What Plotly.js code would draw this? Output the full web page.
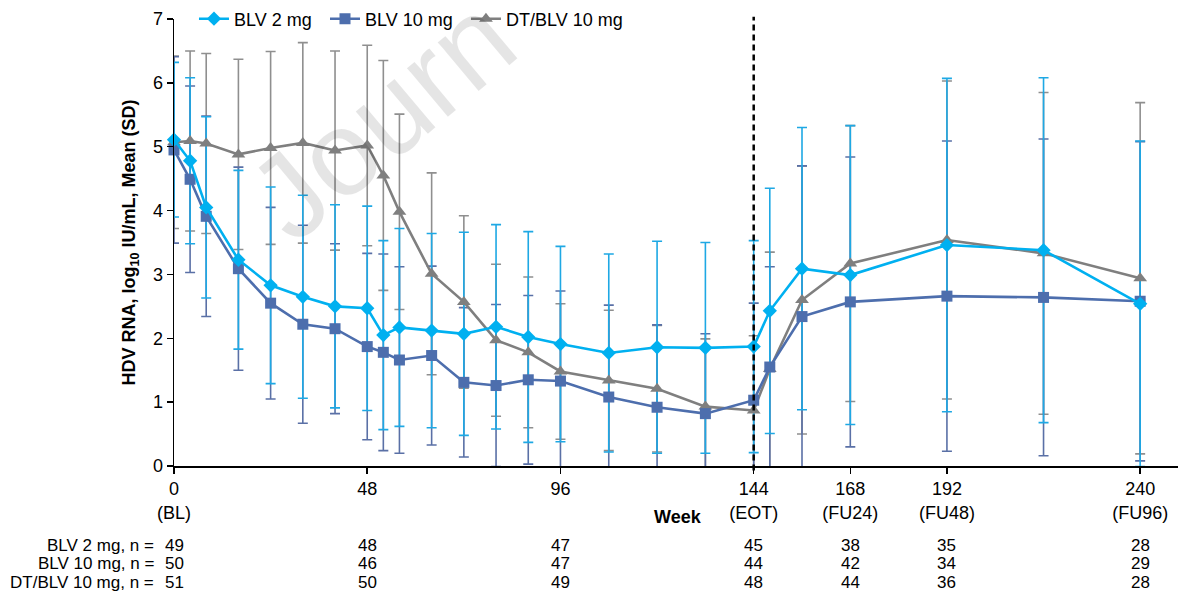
<!DOCTYPE html>
<html>
<head>
<meta charset="utf-8">
<script src="https://cdn.plot.ly/plotly-3.0.1.min.js"></script>
<style>
  html, body { margin: 0; padding: 0; background: #ffffff; }
  #chart { width: 1178px; height: 596px; }
</style>
</head>
<body>
<div id="chart"></div>
<script>
// Study weeks at which HDV RNA was measured
const weeks = [0, 4, 8, 16, 24, 32, 40, 48, 52, 56, 64, 72, 80, 88, 96, 108, 120, 132, 144, 148, 156, 168, 192, 216, 240];

// Mean HDV RNA (log10 IU/mL) per arm
const blv2Mean  = [5.11, 4.78, 4.05, 3.23, 2.83, 2.65, 2.50, 2.47, 2.05, 2.17, 2.12, 2.07, 2.18, 2.02, 1.91, 1.77, 1.86, 1.85, 1.87, 2.43, 3.09, 2.99, 3.46, 3.38, 2.54];
const blv10Mean = [4.95, 4.49, 3.91, 3.09, 2.55, 2.22, 2.15, 1.87, 1.78, 1.66, 1.73, 1.31, 1.26, 1.35, 1.33, 1.08, 0.92, 0.82, 1.03, 1.55, 2.34, 2.57, 2.66, 2.64, 2.58];
const dtBlvMean = [5.07, 5.09, 5.05, 4.88, 4.98, 5.06, 4.94, 5.02, 4.55, 3.98, 3.01, 2.57, 1.97, 1.78, 1.48, 1.34, 1.21, 0.93, 0.87, 1.52, 2.60, 3.17, 3.54, 3.33, 2.94];

// Standard deviations per arm
const blv2Sd  = [1.21, 1.30, 1.42, 1.40, 1.54, 1.59, 1.59, 1.60, 1.48, 1.55, 1.52, 1.59, 1.60, 1.65, 1.53, 1.55, 1.66, 1.65, 1.66, 1.92, 2.21, 2.34, 2.61, 2.70, 2.55];
const blv10Sd = [1.46, 1.46, 1.57, 1.59, 1.50, 1.55, 1.33, 1.46, 1.54, 1.46, 1.40, 1.17, 1.27, 1.32, 1.41, 1.44, 1.29, 1.25, 1.52, 1.57, 2.36, 2.27, 2.43, 2.48, 2.50];
const dtBlvSd = [1.35, 1.41, 1.41, 1.49, 1.51, 1.57, 1.56, 1.57, 1.80, 1.53, 1.58, 1.35, 1.19, 1.18, 1.06, 1.10, 0.99, 1.06, 1.17, 1.83, 2.10, 2.16, 2.49, 2.52, 2.75];

// X-axis ticks
const tickWeeks  = [0, 48, 96, 144, 168, 192, 240];
const tickLabels = ['0<br>(BL)', '48', '96', '144<br>(EOT)', '168<br>(FU24)', '192<br>(FU48)', '240<br>(FU96)'];

// Patients at risk
const armNames  = ['BLV 2 mg', 'BLV 10 mg', 'DT/BLV 10 mg'];
const rowLabels = ['BLV 2 mg, n =', 'BLV 10 mg, n =', 'DT/BLV 10 mg, n ='];
const nBlv2  = [49, 48, 47, 45, 38, 35, 28];
const nBlv10 = [50, 46, 47, 44, 42, 34, 29];
const nDtBlv = [51, 50, 49, 48, 44, 36, 28];
const endOfTreatmentWeek = 144;

const FONT = 'Liberation Sans, Arial, Helvetica, sans-serif';
const arms = [
  { name: armNames[2], mean: dtBlvMean, sd: dtBlvSd, color: '#7f7f7f', bar: '#8f8f8f', symbol: 'triangle-up', size: 12, legend: 'legend3', lx: 0.2908 },
  { name: armNames[1], mean: blv10Mean, sd: blv10Sd, color: '#4d6ead', bar: '#5a70a6', symbol: 'square',      size: 11, legend: 'legend2', lx: 0.1504 },
  { name: armNames[0], mean: blv2Mean,  sd: blv2Sd,  color: '#00b0f0', bar: '#1ea8e4', symbol: 'diamond',     size: 11, legend: 'legend',  lx: 0.0199 }
];

const traces = [];
// SD bars, clipped at the axes
arms.forEach(a => {
  traces.push({
    type: 'scatter', mode: 'markers', x: weeks, y: a.mean,
    marker: { size: 1, opacity: 0 }, showlegend: false, hoverinfo: 'skip',
    cliponaxis: true,
    error_y: { type: 'data', array: a.sd, visible: true, color: a.bar, thickness: 1.6, width: 5 }
  });
});
// Mean lines with markers
arms.forEach(a => {
  traces.push({
    type: 'scatter', mode: 'lines+markers', name: a.name, x: weeks, y: a.mean,
    line: { color: a.color, width: 2.6 },
    marker: { color: a.color, symbol: a.symbol, size: a.size },
    cliponaxis: false, legend: a.legend
  });
});

const annotations = [];
// faint diagonal watermark
annotations.push({
  text: 'Journ', xref: 'paper', yref: 'paper', x: 0.206, y: 0.7795,
  xanchor: 'center', yanchor: 'middle',
  showarrow: false, textangle: -40, font: { family: FONT, size: 120, color: 'rgba(0,0,0,0.10)' }
});
annotations.push({
  text: '<b>Week</b>', xref: 'paper', yref: 'paper', x: 0.502, y: -0.114,
  xanchor: 'center', yanchor: 'middle',
  showarrow: false, font: { family: FONT, size: 18, color: '#000' }
});
const nRows = [nBlv2, nBlv10, nDtBlv];
const rowY = [-0.178, -0.219, -0.261];
nRows.forEach((counts, i) => {
  annotations.push({
    text: rowLabels[i], xref: 'paper', yref: 'paper', x: -0.018, y: rowY[i],
    xanchor: 'right', yanchor: 'middle', showarrow: false,
    font: { family: FONT, size: 17, color: '#000' }
  });
  counts.forEach((n, j) => {
    annotations.push({
      text: String(n), xref: 'x', yref: 'paper', x: tickWeeks[j], y: rowY[i],
      xanchor: 'center', yanchor: 'middle', showarrow: false,
      font: { family: FONT, size: 17, color: '#000' }
    });
  });
});

const legendBase = x => ({
  orientation: 'h', x: x, y: 1.0, xanchor: 'left', yanchor: 'middle',
  font: { family: FONT, size: 18, color: '#000' }, bgcolor: 'rgba(0,0,0,0)'
});

const layout = {
  width: 1178, height: 596,
  margin: { l: 174, r: 0, t: 17, b: 130 },
  paper_bgcolor: '#ffffff', plot_bgcolor: '#ffffff',
  font: { family: FONT, size: 18, color: '#000' },
  showlegend: true,
  legend: legendBase(arms[2].lx),
  legend2: legendBase(arms[1].lx),
  legend3: legendBase(arms[0].lx),
  xaxis: {
    range: [0, 249.4], showgrid: false, zeroline: false,
    showline: true, linecolor: '#000', linewidth: 1.5,
    ticks: 'outside', ticklen: 6, tickwidth: 1.5, tickcolor: '#000',
    tickvals: tickWeeks, ticktext: tickLabels,
    tickfont: { family: FONT, size: 18, color: '#000' }
  },
  yaxis: {
    range: [0, 7], dtick: 1, showgrid: false, zeroline: false,
    showline: true, linecolor: '#000', linewidth: 1.5,
    ticks: 'outside', ticklen: 6, tickwidth: 1.5, tickcolor: '#000',
    tickfont: { family: FONT, size: 18, color: '#000' },
    title: { text: '<b>HDV RNA, log<sub>10</sub> IU/mL, Mean (SD)</b>', standoff: 12,
             font: { family: FONT, size: 18, color: '#000' } }
  },
  shapes: [{
    type: 'line', xref: 'x', yref: 'paper', x0: endOfTreatmentWeek, x1: endOfTreatmentWeek,
    y0: -0.01, y1: 1.005, line: { color: '#000', width: 2.5, dash: '6px,4px' }
  }],
  annotations: annotations
};

Plotly.newPlot('chart', traces, layout, { displayModeBar: false, staticPlot: true });
</script>
</body>
</html>
